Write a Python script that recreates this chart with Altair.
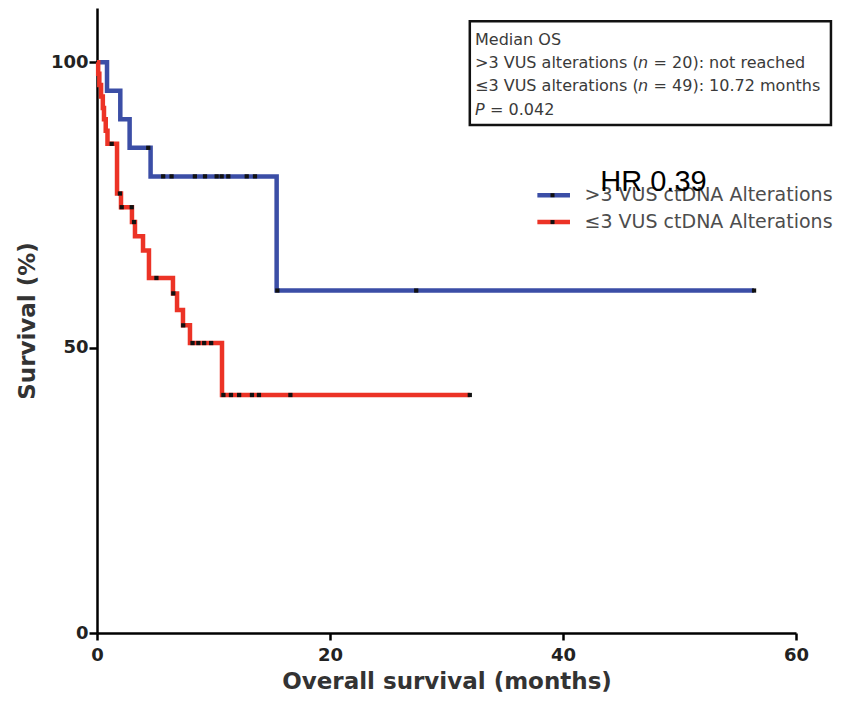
import altair as alt
import pandas as pd

# ---- data ----
blue_t = [0, 0.86, 2.0, 2.8, 4.6, 15.42, 56.4]
blue_s = [100, 95, 90, 85, 80, 60, 60]
blue_cens_t = [4.4, 5.68, 6.4, 8.4, 9.27, 10.27, 10.7, 11.27, 12.85, 13.56, 15.48, 27.4, 56.4]
blue_cens_s = [85, 80, 80, 80, 80, 80, 80, 80, 80, 80, 60, 60, 60]

red_t = [0, 0.1, 0.2, 0.35, 0.5, 0.6, 0.75, 0.9, 1.72, 2.06, 3.0, 3.26, 3.95, 4.46,
         6.52, 6.87, 7.38, 7.98, 10.73, 32.0]
red_s = [100, 98, 96, 94, 92, 90, 88, 85.7, 77.0, 74.6, 72.0, 69.5, 67.0, 62.2,
         59.5, 56.6, 53.9, 50.8, 41.7, 41.7]
red_cens_t = [1.26, 1.97, 2.12, 2.98, 3.18, 5.1, 6.55, 7.4, 8.2, 8.7, 9.2, 9.8,
              10.85, 11.5, 12.2, 13.3, 13.9, 16.6, 32.0]
red_cens_s = [85.7, 77.0, 74.6, 74.6, 72.0, 62.2, 59.5, 53.9, 50.8, 50.8, 50.8, 50.8,
              41.7, 41.7, 41.7, 41.7, 41.7, 41.7, 41.7]

series_names = [">3 VUS ctDNA Alterations", "≤3 VUS ctDNA Alterations"]
series_colors = ["#3b4ea6", "#ec3326"]

x_ticks = [0, 20, 40, 60]
y_ticks = [0, 50, 100]

hr_text = "HR 0.39"

# ---- tables ----
curves = pd.concat([
    pd.DataFrame({"t": blue_t, "s": blue_s, "grp": series_names[0]}),
    pd.DataFrame({"t": red_t, "s": red_s, "grp": series_names[1]}),
])
cens = pd.concat([
    pd.DataFrame({"t": blue_cens_t, "s": blue_cens_s, "grp": series_names[0]}),
    pd.DataFrame({"t": red_cens_t, "s": red_cens_s, "grp": series_names[1]}),
])

FONT = "DejaVu Sans"
xscale = alt.Scale(domain=[0, 60], nice=False, zero=False)
yscale = alt.Scale(domain=[0, 109.5], nice=False, zero=False)

xaxis = alt.Axis(values=x_ticks, title="Overall survival (months)", grid=False,
                 domainColor="black", domainWidth=2.5, tickColor="black", tickWidth=2.5,
                 tickSize=7, labelFont=FONT, labelFontWeight="bold", labelFontSize=18,
                 labelColor="#222", labelPadding=6, titleFont=FONT, titleFontSize=23,
                 titleFontWeight="bold", titleColor="#333", titlePadding=6,
                 labelFlush=False)
yaxis = alt.Axis(values=y_ticks, title="Survival (%)", grid=False,
                 domainColor="black", domainWidth=2.5, tickColor="black", tickWidth=2.5,
                 tickSize=8, labelFont=FONT, labelFontWeight="bold", labelFontSize=18,
                 labelColor="#222", labelPadding=1, titleFont=FONT, titleFontSize=23,
                 titleFontWeight="bold", titleColor="#333", titlePadding=11)

color = alt.Color("grp:N", scale=alt.Scale(domain=series_names, range=series_colors), legend=None)

lines = alt.Chart(curves).mark_line(interpolate="step-after", strokeWidth=4.5, strokeJoin="miter").encode(
    x=alt.X("t:Q", scale=xscale, axis=xaxis),
    y=alt.Y("s:Q", scale=yscale, axis=yaxis),
    color=color,
    order=alt.Order("t:Q"),
)

marks = alt.Chart(cens).mark_point(shape="square", filled=True, size=18, color="#111", opacity=1).encode(
    x=alt.X("t:Q", scale=xscale), y=alt.Y("s:Q", scale=yscale)
)

# ---- legend (custom) ----
leg = pd.DataFrame({"grp": series_names, "y": [76.7, 72.0],
                    "x1": [37.8, 37.8], "x2": [40.6, 40.6], "xm": [39.1, 39.1], "xt": [41.85, 41.85]})
leg_lines = alt.Chart(leg).mark_rule(strokeWidth=4.5).encode(
    x=alt.X("x1:Q", scale=xscale), x2="x2:Q", y=alt.Y("y:Q", scale=yscale), color=color)
leg_marks = alt.Chart(leg).mark_point(shape="square", filled=True, size=16, color="#111", opacity=1).encode(
    x=alt.X("xm:Q", scale=xscale), y=alt.Y("y:Q", scale=yscale))
leg_text = alt.Chart(leg).mark_text(align="left", baseline="middle", font=FONT, fontSize=19,
                                    color="#4d4d4d").encode(
    x=alt.X("xt:Q", scale=xscale), y=alt.Y("y:Q", scale=yscale), text="grp:N")

# ---- annotation box ----
box = alt.Chart(pd.DataFrame({"x": [32.0], "x2": [63.0], "y": [107.2], "y2": [89.0]})).mark_rect(
    fill="white", stroke="#111", strokeWidth=2.5).encode(
    x=alt.X("x:Q", scale=xscale), x2="x2:Q", y=alt.Y("y:Q", scale=yscale), y2="y2:Q")

TX = 32.45
seg = pd.DataFrame({
    "x": [TX] * 9,
    "y": [103.9, 99.9, 99.9, 99.9, 95.8, 95.8, 95.8, 91.6, 91.6],
    "txt": ["Median OS", ">3 VUS alterations (", "n", "= 20): not reached",
            "≤3 VUS alterations (", "n", "= 49): 10.72 months", "P", "= 0.042"],
    "dx": [0, 0, 163, 178.5, 0, 163, 178.5, 0, 15],
    "st": ["normal", "normal", "italic", "normal", "normal", "italic", "normal", "italic", "normal"],
})

box_text_layers = []
for i, r in seg.iterrows():
    box_text_layers.append(
        alt.Chart(pd.DataFrame([r])).mark_text(align="left", baseline="middle", font=FONT, fontSize=16,
                                               color="#3a3a3a", dx=float(r["dx"]), fontStyle=r["st"]).encode(
            x=alt.X("x:Q", scale=xscale), y=alt.Y("y:Q", scale=yscale), text="txt:N")
    )

hr = alt.Chart(pd.DataFrame({"x": [43.2], "y": [77.4], "txt": [hr_text]})).mark_text(
    align="left", baseline="alphabetic", font="Liberation Sans", fontSize=29, color="#000").encode(
    x=alt.X("x:Q", scale=xscale), y=alt.Y("y:Q", scale=yscale), text="txt:N")

chart = alt.layer(lines, marks, leg_lines, leg_marks, leg_text, box, *box_text_layers, hr).properties(
    width=699, height=625,
    autosize=alt.AutoSizeParams(type="none"),
    padding={"left": 89, "top": 0, "right": 37, "bottom": 61},
).configure_view(stroke=None)

chart.save("out.html", embed_options={"renderer": "svg", "actions": False})
